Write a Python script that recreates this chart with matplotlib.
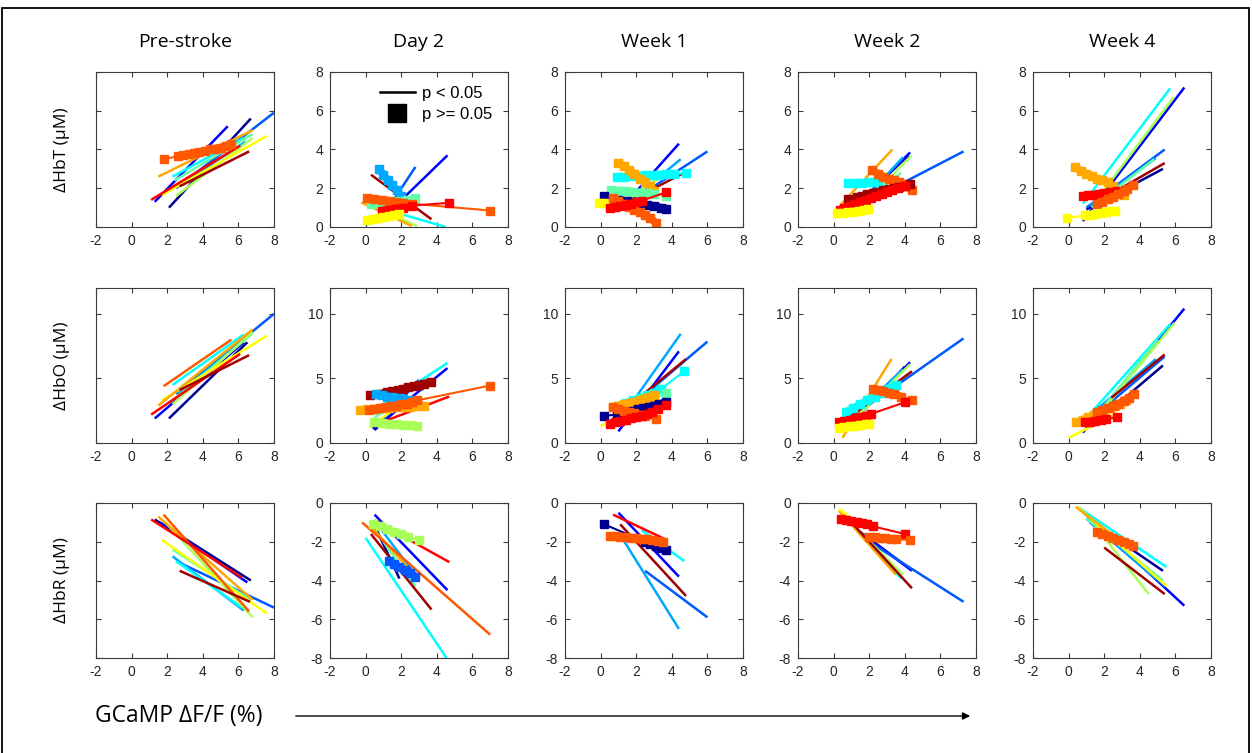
import matplotlib
matplotlib.use("Agg")
import matplotlib.pyplot as plt
from matplotlib.lines import Line2D
from matplotlib.patches import Rectangle, FancyArrowPatch

plt.rcParams['axes.unicode_minus'] = False

# ---------------- data ----------------
COLUMNS = ["Pre-stroke", "Day 2", "Week 1", "Week 2", "Week 4"]
ROW_LABELS = ["ΔHbT (μM)", "ΔHbO (μM)", "ΔHbR (μM)"]
SUBJECT_COLORS = ['#00008F', '#0000FF', '#0058FF', '#00A8FF', '#00FFFF', '#60FFA8',
                  '#A8FF58', '#FFFF00', '#FFA800', '#FF5800', '#FF0000', '#A00000']
X_TICKS = [-2, 0, 2, 4, 6, 8]
Y_TICKS_HBT = [0, 2, 4, 6, 8]
Y_TICKS_HBO = [0, 5, 10]
Y_TICKS_HBR = [-8, -6, -4, -2, 0]

# (subject colour index, significant?, x values, y values)
HBT_PRE = [
    (0, 1, [2.1, 6.7], [1.0, 5.6]), (1, 1, [1.3, 5.4], [1.3, 5.2]),
    (2, 1, [2.5, 8.0], [2.0, 5.9]), (3, 1, [2.6, 6.4], [2.1, 4.4]),
    (4, 1, [2.3, 6.3], [2.6, 4.6]), (5, 1, [2.4, 6.8], [2.4, 4.8]),
    (6, 1, [2.5, 6.8], [1.6, 4.6]), (7, 1, [1.7, 7.6], [1.65, 4.7]),
    (8, 1, [1.5, 6.8], [2.6, 5.0]), (10, 1, [1.1, 6.1], [1.4, 4.2]),
    (11, 1, [2.7, 6.6], [2.1, 3.9]),
    (9, 0, [1.8, 2.6, 2.9, 3.2, 3.5, 3.8, 4.1, 4.4, 4.7, 5.0, 5.3, 5.6],
           [3.5, 3.65, 3.7, 3.75, 3.8, 3.85, 3.9, 4.0, 4.05, 4.1, 4.2, 4.3]),
]
HBT_D2 = [
    (0, 1, [0.8, 2.0], [0.25, 1.0]), (1, 1, [0.9, 4.6], [0.4, 3.7]),
    (2, 1, [1.0, 2.8], [0.6, 3.1]), (4, 1, [1.5, 4.5], [0.8, 0.0]),
    (6, 1, [0.5, 2.9], [1.0, 0.05]), (8, 1, [-0.25, 2.6], [1.27, 0.05]),
    (11, 1, [0.3, 3.7], [2.7, 0.4]),
    (3, 0, [0.75, 1.0, 1.25, 1.5, 1.75, 2.0], [3.0, 2.7, 2.4, 2.15, 1.9, 1.6]),
    (5, 0, [0.3, 0.8, 1.3, 1.8, 2.3, 2.8], [1.2, 1.25, 1.3, 1.35, 1.4, 1.5]),
    (9, 0, [0.1, 0.5, 0.9, 1.3, 1.7, 2.1, 2.6, 7.0], [1.5, 1.45, 1.4, 1.35, 1.3, 1.25, 1.2, 0.85]),
    (10, 0, [0.9, 1.3, 1.7, 2.1, 2.6, 4.7], [0.85, 0.9, 0.95, 1.0, 1.1, 1.25]),
    (7, 0, [0.1, 0.4, 0.7, 1.0, 1.3, 1.6, 1.9], [0.35, 0.4, 0.45, 0.5, 0.55, 0.6, 0.65]),
]
HBT_W1 = [
    (1, 1, [1.0, 4.4], [0.8, 4.3]), (2, 1, [1.0, 6.0], [0.9, 3.9]),
    (3, 1, [1.2, 4.5], [1.0, 3.5]), (6, 1, [1.5, 3.8], [1.5, 2.8]),
    (11, 1, [0.9, 4.8], [1.0, 2.85]),
    (4, 0, [0.9, 1.3, 1.7, 2.1, 2.5, 2.9, 3.3, 3.7, 4.1, 4.8],
           [2.6, 2.6, 2.62, 2.64, 2.66, 2.68, 2.7, 2.72, 2.74, 2.77]),
    (8, 0, [1.0, 1.3, 1.6, 1.9, 2.2, 2.5, 2.8, 3.0], [3.3, 3.15, 2.95, 2.75, 2.5, 2.3, 2.1, 1.87]),
    (5, 0, [0.6, 1.0, 1.4, 1.8, 2.2, 2.6, 3.0, 3.7], [1.9, 1.88, 1.85, 1.82, 1.78, 1.75, 1.7, 1.6]),
    (0, 0, [0.2, 1.0, 1.4, 1.8, 2.2, 2.6, 3.0, 3.4, 3.7], [1.6, 1.4, 1.35, 1.28, 1.2, 1.15, 1.08, 1.0, 0.95]),
    (7, 0, [-0.1, 0.2, 0.5, 0.8, 1.0], [1.25, 1.22, 1.2, 1.18, 1.15]),
    (9, 0, [0.7, 1.0, 1.3, 1.6, 1.9, 2.2, 2.5, 2.8, 3.1], [1.5, 1.35, 1.2, 1.05, 0.9, 0.75, 0.6, 0.45, 0.22]),
    (10, 0, [0.5, 0.8, 1.1, 1.4, 1.7, 2.0, 2.3, 3.7], [1.0, 1.05, 1.1, 1.15, 1.2, 1.3, 1.35, 1.8]),
]
HBT_W2 = [
    (0, 1, [1.0, 4.2], [0.9, 3.7]), (1, 1, [1.2, 4.3], [1.0, 3.85]),
    (2, 1, [1.0, 7.3], [0.9, 3.9]), (3, 1, [1.3, 3.9], [1.0, 3.6]),
    (5, 1, [1.5, 3.8], [1.2, 2.8]), (6, 1, [1.5, 4.4], [1.0, 3.7]),
    (8, 1, [0.35, 3.3], [1.1, 4.0]),
    (4, 0, [0.8, 1.2, 1.6, 2.0, 2.5], [2.25, 2.26, 2.28, 2.3, 2.32]),
    (9, 0, [2.15, 2.5, 2.8, 3.1, 3.4, 3.7, 4.0, 4.4], [2.95, 2.75, 2.6, 2.5, 2.4, 2.3, 2.2, 1.9]),
    (11, 0, [0.8, 1.3, 1.6, 1.9, 2.2, 2.5, 2.8, 3.1, 3.4, 3.7, 4.0, 4.3],
            [1.45, 1.55, 1.6, 1.7, 1.75, 1.8, 1.9, 1.95, 2.0, 2.05, 2.1, 2.2]),
    (10, 0, [0.35, 0.6, 0.9, 1.2, 1.5, 1.8, 2.1, 2.4, 2.7, 3.0, 3.3, 3.6, 4.0],
            [0.88, 1.0, 1.1, 1.2, 1.3, 1.4, 1.5, 1.6, 1.7, 1.8, 1.9, 2.0, 2.1]),
    (7, 0, [0.2, 0.5, 0.8, 1.1, 1.4, 1.7, 1.95], [0.7, 0.73, 0.76, 0.8, 0.84, 0.88, 0.91]),
]
HBT_W4 = [
    (0, 1, [1.0, 5.3], [0.9, 3.0]), (1, 1, [0.8, 6.5], [0.3, 7.2]),
    (2, 1, [1.0, 5.4], [1.0, 4.0]), (3, 1, [1.2, 4.9], [1.1, 3.55]),
    (4, 1, [0.8, 5.7], [1.2, 7.15]), (5, 1, [1.3, 4.8], [1.0, 3.5]),
    (6, 1, [1.5, 5.9], [1.3, 6.7]), (11, 1, [2.0, 5.4], [1.5, 3.3]),
    (8, 0, [0.35, 0.7, 1.0, 1.3, 1.6, 1.9, 2.2, 2.5, 3.1], [3.1, 2.9, 2.75, 2.65, 2.5, 2.4, 2.3, 2.1, 1.65]),
    (10, 0, [0.8, 1.1, 1.4, 1.7, 2.0, 2.3, 2.7], [1.6, 1.63, 1.67, 1.72, 1.75, 1.8, 1.85]),
    (9, 0, [1.6, 1.9, 2.2, 2.5, 2.8, 3.1, 3.3, 3.6], [1.2, 1.3, 1.45, 1.55, 1.7, 1.85, 1.95, 2.15]),
    (7, 0, [-0.1, 0.9, 1.2, 1.5, 1.8, 2.1, 2.4, 2.6], [0.45, 0.6, 0.63, 0.67, 0.72, 0.77, 0.82, 0.85]),
]
HBO_PRE = [
    (0, 1, [2.1, 6.5], [1.9, 7.8]), (1, 1, [1.3, 6.3], [1.9, 7.8]),
    (2, 1, [2.5, 8.0], [3.8, 10.0]), (3, 1, [2.6, 6.3], [3.8, 8.0]),
    (4, 1, [2.3, 6.3], [4.5, 8.4]), (5, 1, [2.5, 6.8], [3.5, 8.5]),
    (6, 1, [2.3, 6.8], [3.0, 8.6]), (7, 1, [1.7, 7.6], [3.3, 8.3]),
    (8, 1, [1.5, 6.8], [2.9, 8.8]), (9, 1, [1.8, 5.6], [4.4, 8.0]),
    (10, 1, [1.1, 6.1], [2.2, 6.9]), (11, 1, [2.7, 6.6], [4.1, 6.8]),
]
HBO_D2 = [
    (0, 1, [0.5, 2.5], [1.0, 3.5]), (1, 1, [0.4, 4.6], [1.1, 5.8]),
    (2, 1, [0.8, 3.0], [1.5, 4.9]), (4, 1, [0.5, 4.6], [2.5, 6.2]),
    (5, 1, [0.5, 2.5], [2.0, 3.5]), (7, 1, [0.2, 2.0], [1.2, 3.0]),
    (10, 1, [0.9, 4.7], [1.6, 3.6]),
    (11, 0, [0.25, 0.8, 1.2, 1.5, 1.8, 2.1, 2.4, 2.7, 3.0, 3.3, 3.7],
            [3.7, 3.8, 3.95, 4.0, 4.1, 4.2, 4.3, 4.4, 4.5, 4.6, 4.75]),
    (3, 0, [0.6, 0.9, 1.2, 1.5, 1.8, 2.1, 2.5], [3.8, 3.7, 3.6, 3.55, 3.45, 3.4, 3.3]),
    (8, 0, [-0.3, 0.1, 0.5, 0.9, 1.3, 1.7, 2.1, 2.5, 2.9, 3.3],
           [2.55, 2.6, 2.65, 2.7, 2.72, 2.75, 2.8, 2.82, 2.85, 2.9]),
    (9, 0, [0.2, 0.5, 0.8, 1.1, 1.4, 1.7, 2.0, 2.3, 2.6, 2.9, 7.0],
           [2.55, 2.6, 2.7, 2.75, 2.85, 2.9, 3.0, 3.05, 3.15, 3.3, 4.45]),
    (6, 0, [0.5, 0.9, 1.3, 1.7, 2.1, 2.5, 2.9], [1.6, 1.55, 1.5, 1.45, 1.4, 1.37, 1.35]),
]
HBO_W1 = [
    (1, 1, [1.0, 4.4], [0.9, 7.1]), (2, 1, [1.0, 6.0], [2.0, 7.85]),
    (3, 1, [1.5, 4.5], [2.6, 8.45]), (6, 1, [1.2, 3.5], [2.5, 4.5]),
    (7, 1, [0.0, 2.0], [1.3, 2.8]), (11, 1, [1.1, 4.8], [2.3, 6.5]),
    (4, 0, [1.0, 1.4, 1.8, 2.2, 2.6, 3.0, 3.4, 4.7], [2.9, 3.1, 3.3, 3.5, 3.7, 3.9, 4.2, 5.55]),
    (5, 0, [1.0, 1.5, 2.0, 2.5, 3.0, 3.7], [2.6, 2.8, 3.0, 3.2, 3.4, 3.9]),
    (8, 0, [0.7, 1.0, 1.3, 1.6, 1.9, 2.2, 2.5, 2.8, 3.0], [2.8, 2.9, 3.0, 3.1, 3.2, 3.35, 3.45, 3.55, 3.7]),
    (0, 0, [0.2, 0.9, 1.2, 1.5, 1.8, 2.1, 2.4, 2.7, 3.0, 3.3, 3.7],
           [2.1, 2.2, 2.3, 2.4, 2.5, 2.6, 2.7, 2.8, 2.9, 3.0, 3.2]),
    (9, 0, [0.7, 1.0, 1.3, 1.6, 1.9, 2.2, 2.5, 3.1], [2.75, 2.6, 2.5, 2.4, 2.3, 2.2, 2.1, 1.85]),
    (10, 0, [0.5, 0.8, 1.1, 1.4, 1.7, 2.0, 2.3, 2.6, 2.9, 3.2, 3.7],
            [1.5, 1.6, 1.7, 1.8, 1.9, 2.0, 2.1, 2.25, 2.4, 2.6, 2.95]),
]
HBO_W2 = [
    (0, 1, [1.0, 4.0], [1.5, 5.9]), (1, 1, [1.2, 4.3], [2.0, 6.25]),
    (2, 1, [1.0, 7.3], [2.0, 8.1]), (3, 1, [1.0, 3.9], [2.0, 5.7]),
    (5, 1, [1.0, 3.7], [2.0, 4.8]), (6, 1, [1.3, 4.3], [2.0, 6.1]),
    (8, 1, [0.5, 3.25], [0.4, 6.5]), (11, 1, [0.5, 4.4], [1.6, 5.55]),
    (4, 0, [0.7, 1.1, 1.5, 1.9, 2.3, 2.7, 3.1, 3.5], [2.4, 2.7, 3.0, 3.3, 3.6, 3.9, 4.2, 4.5]),
    (9, 0, [2.2, 2.5, 2.8, 3.1, 3.4, 3.8, 4.4], [4.2, 4.1, 4.0, 3.9, 3.8, 3.6, 3.35]),
    (10, 0, [0.3, 0.6, 0.9, 1.2, 1.5, 1.8, 2.1, 4.0], [1.6, 1.7, 1.8, 1.9, 2.0, 2.1, 2.25, 3.15]),
    (7, 0, [0.3, 0.6, 0.9, 1.2, 1.5, 1.8, 2.0], [1.2, 1.25, 1.3, 1.35, 1.4, 1.45, 1.5]),
]
HBO_W4 = [
    (0, 1, [1.2, 5.3], [1.2, 6.0]), (1, 1, [0.8, 6.5], [0.8, 10.4]),
    (2, 1, [1.2, 5.4], [1.8, 6.7]), (3, 1, [1.5, 4.9], [2.5, 6.5]),
    (4, 1, [1.3, 5.7], [2.4, 9.2]), (5, 1, [1.5, 5.0], [2.0, 8.0]),
    (6, 1, [1.6, 5.95], [2.0, 9.3]), (7, 1, [0.0, 2.6], [0.4, 2.2]),
    (11, 1, [2.4, 5.4], [3.5, 6.85]),
    (8, 0, [0.4, 0.8, 1.1, 1.4, 1.7, 2.0, 2.3, 2.6, 2.9, 3.2],
           [1.6, 1.8, 2.0, 2.2, 2.35, 2.5, 2.7, 2.85, 3.05, 3.3]),
    (9, 0, [1.6, 1.9, 2.2, 2.5, 2.8, 3.1, 3.4, 3.7], [2.4, 2.55, 2.7, 2.9, 3.05, 3.25, 3.5, 3.8]),
    (10, 0, [0.9, 1.2, 1.5, 1.8, 2.1, 2.7], [1.6, 1.65, 1.7, 1.8, 1.85, 2.0]),
]
HBR_PRE = [
    (0, 1, [1.3, 6.7], [-0.85, -4.0]), (1, 1, [1.6, 6.5], [-1.0, -4.1]),
    (2, 1, [2.5, 8.0], [-3.0, -5.4]), (3, 1, [2.3, 6.3], [-2.75, -5.55]),
    (4, 1, [2.5, 6.2], [-3.0, -5.4]), (5, 1, [2.3, 6.7], [-2.4, -5.0]),
    (6, 1, [1.8, 6.8], [-0.9, -5.9]), (7, 1, [1.7, 7.6], [-1.9, -5.7]),
    (8, 1, [1.5, 6.8], [-0.7, -5.0]), (9, 1, [1.8, 6.6], [-0.6, -5.6]),
    (10, 1, [1.1, 6.2], [-0.85, -3.85]), (11, 1, [2.7, 6.65], [-3.5, -5.1]),
]
HBR_D2 = [
    (0, 1, [0.4, 1.9], [-0.95, -3.9]), (1, 1, [0.5, 4.6], [-0.6, -4.5]),
    (3, 1, [0.9, 2.8], [-1.4, -3.7]), (4, 1, [0.0, 4.55], [-1.8, -8.0]),
    (5, 1, [1.0, 2.8], [-2.0, -4.3]), (8, 1, [0.3, 3.0], [-1.2, -4.0]),
    (9, 1, [-0.2, 7.0], [-1.0, -6.8]), (10, 1, [0.5, 4.7], [-0.9, -3.05]),
    (11, 1, [0.3, 3.7], [-1.6, -5.5]),
    (6, 0, [0.4, 0.8, 1.2, 1.6, 2.0, 2.4, 3.0], [-1.1, -1.2, -1.35, -1.5, -1.6, -1.75, -1.9]),
    (2, 0, [1.3, 1.6, 1.9, 2.2, 2.5, 2.8], [-3.0, -3.15, -3.3, -3.45, -3.6, -3.8]),
]
HBR_W1 = [
    (1, 1, [1.0, 4.4], [-0.5, -3.8]), (2, 1, [2.5, 6.0], [-3.5, -5.9]),
    (3, 1, [1.0, 4.4], [-1.5, -6.5]), (4, 1, [2.3, 4.7], [-1.4, -3.0]),
    (10, 1, [0.7, 3.7], [-0.6, -1.9]), (11, 1, [1.1, 4.8], [-1.1, -4.8]),
    (0, 0, [0.2, 2.5, 2.8, 3.1, 3.4, 3.7], [-1.1, -2.0, -2.1, -2.2, -2.3, -2.4]),
    (9, 0, [0.5, 0.8, 1.1, 1.4, 1.7, 2.0, 2.3, 2.6, 2.9, 3.2, 3.5],
           [-1.7, -1.72, -1.75, -1.77, -1.8, -1.82, -1.85, -1.88, -1.9, -1.95, -2.0]),
]
HBR_W2 = [
    (0, 1, [1.5, 4.0], [-1.5, -3.2]), (1, 1, [1.5, 4.4], [-1.5, -3.5]),
    (2, 1, [2.0, 7.3], [-2.0, -5.1]), (4, 1, [1.5, 3.8], [-1.5, -3.9]),
    (6, 1, [1.5, 3.9], [-1.5, -3.7]), (8, 1, [0.3, 3.5], [-0.4, -3.7]),
    (11, 1, [1.0, 4.4], [-1.0, -4.4]), (7, 1, [0.3, 1.0], [-0.3, -0.8]),
    (10, 0, [0.4, 0.7, 1.0, 1.3, 1.6, 1.9, 2.2, 4.0], [-0.85, -0.9, -0.95, -1.0, -1.05, -1.1, -1.2, -1.6]),
    (9, 0, [2.0, 2.3, 2.6, 2.9, 3.2, 3.5, 4.3], [-1.75, -1.77, -1.8, -1.82, -1.85, -1.88, -1.9]),
]
HBR_W4 = [
    (0, 1, [1.0, 5.3], [-0.8, -3.5]), (1, 1, [0.5, 6.5], [-0.2, -5.3]),
    (2, 1, [1.2, 5.4], [-1.0, -4.3]), (3, 1, [1.0, 4.9], [-0.8, -3.9]),
    (4, 1, [0.5, 5.5], [-0.2, -3.3]), (5, 1, [1.0, 5.3], [-0.8, -4.0]),
    (6, 1, [1.5, 4.5], [-1.2, -4.7]), (7, 1, [0.5, 5.5], [-0.2, -4.3]),
    (8, 1, [0.4, 3.0], [-0.2, -2.0]), (11, 1, [2.0, 5.4], [-2.3, -4.7]),
    (9, 0, [1.6, 1.9, 2.2, 2.5, 2.8, 3.1, 3.4, 3.6], [-1.5, -1.6, -1.7, -1.8, -1.9, -2.0, -2.1, -2.2]),
]

PANELS = [
    [HBT_PRE, HBT_D2, HBT_W1, HBT_W2, HBT_W4],
    [HBO_PRE, HBO_D2, HBO_W1, HBO_W2, HBO_W4],
    [HBR_PRE, HBR_D2, HBR_W1, HBR_W2, HBR_W4],
]
Y_LIMS = [(0, 8), (0, 12), (-8, 0)]
Y_TICKS = [Y_TICKS_HBT, Y_TICKS_HBO, Y_TICKS_HBR]

# ---------------- layout ----------------
W, H = 1252, 753
fig = plt.figure(figsize=(W / 100, H / 100), dpi=100)
fig.patch.set_facecolor('white')

col_left_px = [96, 330, 565, 798, 1033]
col_w_px = 178
row_top_px = [72, 288, 503]
row_h_px = 155

TICK_FONT = 'Liberation Sans'
LABEL_FONT = ['Open Sans', 'DejaVu Sans']
AX_COLOR = '#3a3a3a'


def draw_nonsig(ax, xs, ys, col):
    # densely sampled points render as a thick bar, isolated points joined thinly
    for i in range(len(xs) - 1):
        close = abs(xs[i + 1] - xs[i]) <= 0.45
        ax.plot(xs[i:i + 2], ys[i:i + 2], '-', color=col,
                lw=5.5 if close else 1.5, solid_capstyle='butt')
    ax.plot(xs, ys, 's', color=col, ms=5.5, mec=col, mfc=col, linestyle='none')


axes_grid = []
for r in range(3):
    row_axes = []
    for c in range(5):
        left = col_left_px[c] / W
        bottom = 1 - (row_top_px[r] + row_h_px) / H
        ax = fig.add_axes([left, bottom, col_w_px / W, row_h_px / H])
        for ci, sig, xs, ys in PANELS[r][c]:
            col = SUBJECT_COLORS[ci]
            if sig:
                ax.plot(xs, ys, '-', color=col, lw=1.8, solid_capstyle='butt')
            else:
                draw_nonsig(ax, xs, ys, col)
        ax.set_xlim(-2, 8)
        ax.set_ylim(*Y_LIMS[r])
        ax.set_xticks(X_TICKS)
        ax.set_yticks(Y_TICKS[r])
        ax.tick_params(direction='in', top=True, right=True, length=3.5, width=0.8,
                       labelsize=10, colors=AX_COLOR, pad=5)
        for lab in ax.get_xticklabels() + ax.get_yticklabels():
            lab.set_fontfamily(TICK_FONT)
            lab.set_color('#262626')
        if c == 0:
            ax.tick_params(labelleft=False)
        for sp in ax.spines.values():
            sp.set_color(AX_COLOR)
            sp.set_linewidth(0.8)
        row_axes.append(ax)
    axes_grid.append(row_axes)

# column titles
for c, name in enumerate(COLUMNS):
    xc = (col_left_px[c] + col_w_px / 2) / W
    fig.text(xc, 1 - 42 / H, name, ha='center', va='center', fontsize=14,
             family=LABEL_FONT, color='black')

# row labels
for r, name in enumerate(ROW_LABELS):
    yc = 1 - (row_top_px[r] + row_h_px / 2) / H
    fig.text(62 / W, yc, name, rotation=90, ha='center', va='center', fontsize=12.5,
             family=LABEL_FONT, color='black')

# legend in Day 2 / HbT panel
leg_handles = [Line2D([], [], color='black', lw=1.8),
               Line2D([], [], color='black', marker='s', ms=13, linestyle='none')]
leg = axes_grid[0][1].legend(leg_handles, ['p < 0.05', 'p >= 0.05'], loc='upper right',
                             bbox_to_anchor=(0.95, 0.953), frameon=False,
                             handlelength=2.1, borderaxespad=0.0, labelspacing=0.35,
                             handletextpad=0.45, prop={'family': TICK_FONT, 'size': 12})

# bottom label and arrow
fig.text(179 / W, 1 - 716 / H, 'GCaMP ΔF/F (%)', ha='center', va='center', fontsize=16.5,
         family=LABEL_FONT, color='black')
arrow = FancyArrowPatch((293 / W, 1 - 716 / H), (973 / W, 1 - 716 / H),
                        transform=fig.transFigure, arrowstyle='-|>', mutation_scale=11,
                        lw=1.0, color='black')
fig.add_artist(arrow)

# outer frame
frame = Rectangle((2 / W, -0.05), (1249 - 2) / W, 1 - 8 / H + 0.05, transform=fig.transFigure,
                  fill=False, ec='black', lw=1.3)
fig.add_artist(frame)

fig.savefig('out.png', dpi=100, facecolor='white')
